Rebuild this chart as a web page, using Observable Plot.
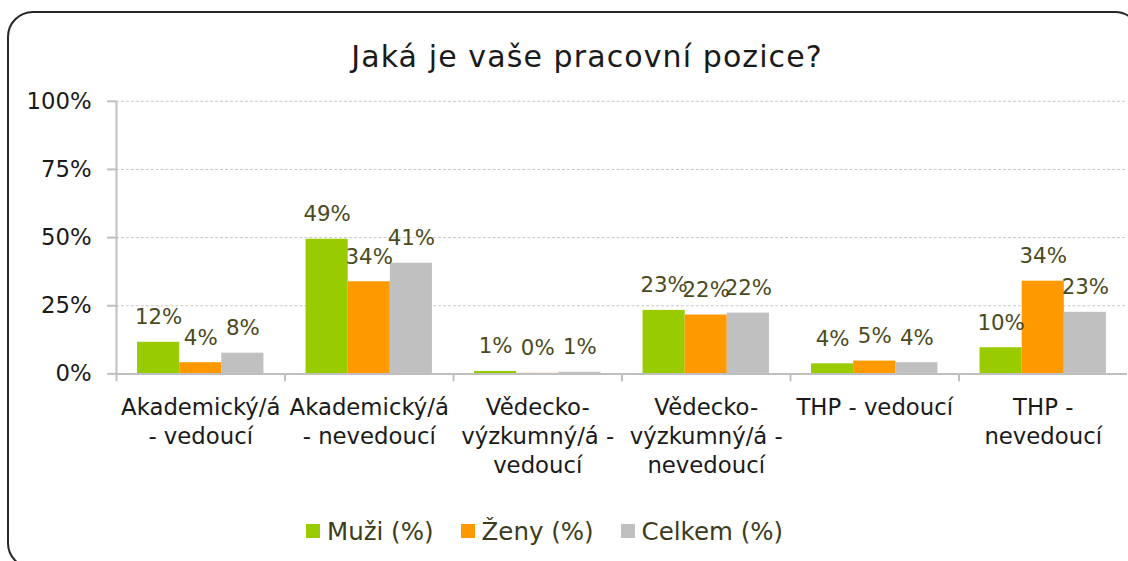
<!DOCTYPE html>
<html>
<head>
<meta charset="utf-8">
<script src="https://cdn.jsdelivr.net/npm/d3@7"></script>
<script src="https://cdn.jsdelivr.net/npm/@observablehq/plot@0.6"></script>
<style>
  html, body { margin: 0; padding: 0; background: #fff; overflow: hidden; width: 1128px; height: 561px; }
  body { position: relative; font-family: "DejaVu Sans", sans-serif; }
  #frame { position: absolute; left: 7px; top: 11px; width: 1134px; height: 558px; border: 2px solid #262626; border-radius: 26px; box-sizing: border-box; }
  #title { position: absolute; left: 0; width: 1174px; top: 42px; text-align: center; font-size: 30px; line-height: 30px; letter-spacing: 1.1px; color: #1a1a1a; white-space: nowrap; }
  #chart { position: absolute; left: 0; top: 80px; }
  #legend { position: absolute; left: 306px; top: 516px; height: 30px; display: flex; align-items: center; font-size: 24.5px; color: #3c3c1c; white-space: nowrap; }
  #legend .item { display: flex; align-items: center; margin-right: 27px; }
  #legend .sw { width: 14px; height: 14px; margin-right: 7px; }
</style>
</head>
<body>
<div id="frame"></div>
<div id="title">Jaká je vaše pracovní pozice?</div>
<div id="chart"></div>
<div id="legend"></div>
<script>
// ---- data ----
const categories = [
  "Akademický/á - vedoucí",
  "Akademický/á - nevedoucí",
  "Vědecko-výzkumný/á - vedoucí",
  "Vědecko-výzkumný/á - nevedoucí",
  "THP - vedoucí",
  "THP - nevedoucí"
];
const categoryLabels = [
  "Akademický/á\n- vedoucí",
  "Akademický/á\n- nevedoucí",
  "Vědecko-\nvýzkumný/á -\nvedoucí",
  "Vědecko-\nvýzkumný/á -\nnevedoucí",
  "THP - vedoucí",
  "THP -\nnevedoucí"
];
const seriesNames = ["Muži (%)", "Ženy (%)", "Celkem (%)"];
const muzi   = [11.6, 49.4, 0.9, 23.3, 3.7, 9.6];
const zeny   = [4.1, 33.8, 0.2, 21.6, 4.7, 34.0];
const celkem = [7.6, 40.6, 0.6, 22.3, 4.1, 22.6];
const seriesColors = ["#99cc00", "#ff9900", "#c0c0c0"];
const yTicks = [0, 0.25, 0.5, 0.75, 1];

// ---- build table ----
const seriesValues = [muzi, zeny, celkem];
const rows = [];
categories.forEach((c, i) => {
  seriesNames.forEach((s, j) => {
    rows.push({category: c, series: s, si: j, value: seriesValues[j][i] / 100});
  });
});
const labelOf = new Map(categories.map((c, i) => [c, categoryLabels[i]]));

const plot = Plot.plot({
  width: 1138,
  height: 406,
  marginTop: 21,
  marginLeft: 115,
  marginRight: 0,
  marginBottom: 110,
  style: {fontFamily: "DejaVu Sans, sans-serif", fontSize: "22px", color: "#1a1a1a", overflow: "visible", background: "transparent"},
  fx: {domain: categories, padding: 0},
  x: {type: "linear", domain: [0, 4], axis: null},
  y: {domain: [0, 1], axis: null},
  color: {domain: seriesNames, range: seriesColors},
  marks: [
    Plot.ruleY(yTicks.filter(d => d > 0), {stroke: "#c6c6c6", strokeWidth: 1, strokeDasharray: "3,2"}),
    Plot.rectY(rows, {
      fx: "category",
      x1: d => d.si + 0.5,
      x2: d => d.si + 1.5,
      y: "value",
      fill: "series"
    }),
    Plot.ruleY([0], {stroke: "#bfbfbf", strokeWidth: 2}),
    Plot.ruleX(categories, {fx: d => d, x: 0, y1: 0, y2: 0, insetBottom: -8, stroke: "#bfbfbf", strokeWidth: 2}),
    Plot.ruleX(categories.slice(0, 1), {fx: d => d, x: 0, y1: 0, y2: 1, stroke: "#bfbfbf", strokeWidth: 2}),
    Plot.axisY({
      ticks: yTicks,
      tickFormat: d3.format(".0%"),
      tickSize: 9,
      tickPadding: 16,
      stroke: "#bfbfbf",
      strokeWidth: 2,
      fill: "#1a1a1a",
      fontSize: 23,
      letterSpacing: "0.5px",
      label: null
    }),
    Plot.axisFx({
      anchor: "bottom",
      tickSize: 0,
      tickPadding: 21,
      tickFormat: d => labelOf.get(d),
      fontSize: 23,
      lineHeight: 1.27,
      fill: "#1a1a1a",
      label: null
    }),
    Plot.text(rows, {
      fx: "category",
      x: d => d.si + 1,
      y: "value",
      text: d => Math.round(d.value * 100) + "%",
      dy: -25,
      fill: "#4a4a1c",
      fontSize: 21.5,
      letterSpacing: "1px"
    })
  ]
});
document.getElementById("chart").appendChild(plot);

// legend
const legend = document.getElementById("legend");
seriesNames.forEach((s, j) => {
  const item = document.createElement("div");
  item.className = "item";
  const sw = document.createElement("div");
  sw.className = "sw";
  sw.style.background = seriesColors[j];
  const t = document.createElement("span");
  t.textContent = s;
  item.appendChild(sw);
  item.appendChild(t);
  legend.appendChild(item);
});
</script>
</body>
</html>
